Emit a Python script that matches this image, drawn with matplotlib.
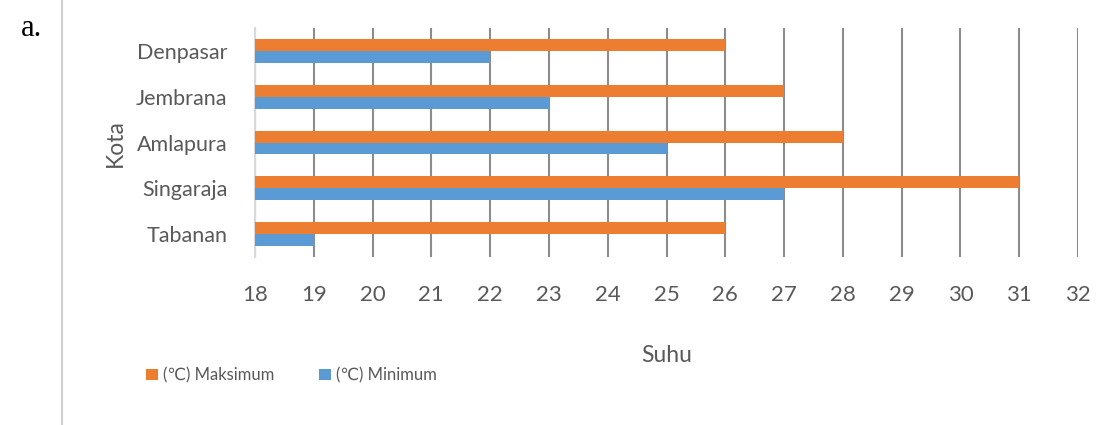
import matplotlib
matplotlib.use("Agg")
import matplotlib.pyplot as plt
import numpy as np

# data (bottom to top, as drawn)
kota = ["Tabanan", "Singaraja", "Amlapura", "Jembrana", "Denpasar"]
suhu_maks = [26, 31, 28, 27, 26]
suhu_min = [19, 27, 25, 23, 22]
x_ticks = list(range(18, 33))

orange = "#ED7D31"
blue = "#5B9BD5"
txt = "#595959"
fonts = ["Lato", "DejaVu Sans"]

fig = plt.figure(figsize=(11.14, 4.25), dpi=100)
ax = fig.add_axes([0.2289, 0.395, 0.9677 - 0.2289, 0.934 - 0.395])

y = np.arange(len(kota))
h = 0.26
ax.barh(y + h / 2, suhu_maks, height=h, left=0, color=orange,
        label="(℃) Maksimum", zorder=3)
ax.barh(y - h / 2, suhu_min, height=h, left=0, color=blue,
        label="(℃) Minimum", zorder=3)

ax.set_xlim(18, 32)
ax.set_ylim(-0.5, len(kota) - 0.5)
ax.set_xticks(x_ticks)
ax.set_xticklabels([str(v) for v in x_ticks], fontsize=16, color=txt, family=fonts)
ax.set_yticks(y)
ax.set_yticklabels(kota, fontsize=15.5, color=txt, family=fonts)
ax.tick_params(axis="x", length=0, pad=20)
ax.tick_params(axis="y", length=0, pad=20)

ax.grid(axis="x", color="#8C8C8C", linewidth=1.5, zorder=0)
for s in ["top", "right", "bottom"]:
    ax.spines[s].set_visible(False)
ax.spines["left"].set_color("#D9D9D9")
ax.spines["left"].set_linewidth(1.5)

ax.set_xlabel("Suhu", fontsize=16.5, color=txt, family=fonts, labelpad=29)
ax.set_ylabel("Kota", fontsize=16.5, color=txt, family=fonts, labelpad=7)

fig.legend(loc="upper left", bbox_to_anchor=(0.118, 0.171), ncol=2, frameon=False,
           prop={"family": fonts, "size": 12}, labelcolor=txt,
           handlelength=0.7, handleheight=0.7, handletextpad=0.3, columnspacing=2.7)

# page marker and border line
fig.text(0.019, 0.915, "a.", fontsize=22, family="Liberation Serif", color="black")
fig.add_artist(plt.Line2D([62 / 1114, 62 / 1114], [0, 1], color="#D0D0D0", linewidth=1.5))

fig.savefig("out.png", dpi=100)
